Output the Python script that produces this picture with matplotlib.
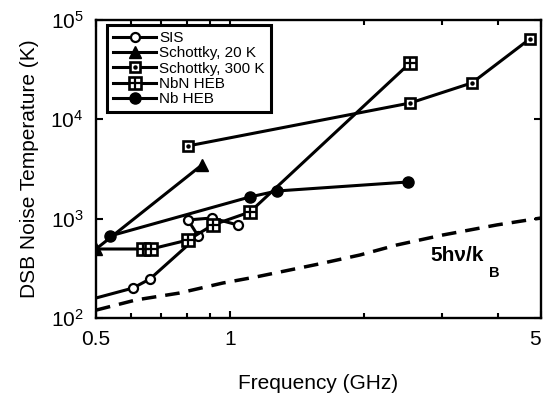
import matplotlib
matplotlib.use("Agg")
import matplotlib.pyplot as plt
from matplotlib.ticker import NullFormatter, NullLocator

plt.rcParams['font.family'] = ['Liberation Sans', 'DejaVu Sans']

# values
sis_f = [0.5, 0.605, 0.661, 0.848, 0.805, 0.911, 1.04]
sis_t = [159, 200, 247, 670, 971, 1016, 865]

sch20_f = [0.5, 0.865]
sch20_t = [495, 3475]

sch300_f = [0.805, 2.54, 3.50, 4.72]
sch300_t = [5400, 14600, 23300, 64600]

nbn_f = [0.5, 0.638, 0.665, 0.805, 0.916, 1.109, 2.54]
nbn_t = [495, 495, 495, 610, 865, 1167, 37000]

nb_f = [0.538, 1.109, 1.276, 2.51]
nb_t = [670, 1655, 1900, 2340]

quantum_f = [0.5, 0.615, 0.768, 0.964, 1.144, 1.586, 1.96, 2.37, 3.01, 3.98, 5.0]
quantum_t = [120, 152, 178, 225, 259, 350, 431, 543, 685, 865, 1016]

x_ticks = [0.5, 1, 5]
x_ticklabels = ['0.5', '1', '5']
x_minor = [0.6, 0.7, 0.8, 0.9, 2, 3, 4]
y_ticks = [1e2, 1e3, 1e4, 1e5]
y_ticklabels = [r'$\mathregular{10^2}$', r'$\mathregular{10^3}$',
                r'$\mathregular{10^4}$', r'$\mathregular{10^5}$']

fig = plt.figure(figsize=(5.43, 3.97), dpi=100)
ax = fig.add_axes([0.1768, 0.199, 0.8195, 0.7506])

lw = 2.2
sis, = ax.plot(sis_f, sis_t, 'k-', lw=lw, marker='o', ms=6.5, mfc='white',
               mec='k', mew=1.6, markevery=list(range(1, len(sis_f))))
s20, = ax.plot(sch20_f, sch20_t, 'k-', lw=lw, marker='^', ms=8.5, mfc='k', mec='k')
s300, = ax.plot(sch300_f, sch300_t, 'k-', lw=lw, marker='s', ms=7.5,
                mfc='white', mec='k', mew=1.9)
s300_dot, = ax.plot(sch300_f, sch300_t, ls='none', marker='o', ms=2.2,
                    mfc='k', mec='k')
nbn, = ax.plot(nbn_f, nbn_t, 'k-', lw=lw, marker='s', ms=8, mfc='white',
               mec='k', mew=1.9, markevery=list(range(1, len(nbn_f))))
nbn_grid, = ax.plot(nbn_f[1:], nbn_t[1:], ls='none', marker='+', ms=8,
                    mec='k', mew=1.6)
nb, = ax.plot(nb_f, nb_t, 'k-', lw=lw, marker='o', ms=8, mfc='k', mec='k')
ax.plot(quantum_f, quantum_t, 'k', lw=2.5, ls=(0, (4.2, 2.6)))

ax.text(2.82, 421, '5hν/k', fontsize=15, fontweight='bold', va='center', ha='left')
ax.text(3.82, 282, 'B', fontsize=10.5, fontweight='bold', va='center', ha='left')

ax.set_xscale('log')
ax.set_yscale('log')
ax.set_xlim(0.5, 5)
ax.set_ylim(1e2, 1e5)
ax.set_xticks(x_ticks)
ax.set_xticklabels(x_ticklabels)
ax.get_xticklabels()[-1].set_horizontalalignment('right')
ax.set_xticks(x_minor, minor=True)
ax.xaxis.set_minor_formatter(NullFormatter())
ax.set_yticks(y_ticks)
ax.set_yticklabels(y_ticklabels)
ax.yaxis.set_minor_locator(NullLocator())

ax.tick_params(which='both', direction='in', top=True, right=True,
               width=1.5, labelsize=15)
ax.tick_params(which='major', length=5)
ax.tick_params(which='minor', length=3.5)
ax.tick_params(axis='x', pad=9)
ax.tick_params(axis='y', pad=9)
for s in ax.spines.values():
    s.set_linewidth(1.7)

ax.set_xlabel('Frequency (GHz)', fontsize=15, labelpad=18)
ax.set_ylabel('DSB Noise Temperature (K)', fontsize=15, labelpad=8)

leg = ax.legend([sis, s20, (s300, s300_dot), (nbn, nbn_grid), nb],
                ['SIS', 'Schottky, 20 K', 'Schottky, 300 K', 'NbN HEB', 'Nb HEB'],
                loc='upper left', bbox_to_anchor=(0.025, 0.983), borderaxespad=0,
                fontsize=11, handlelength=2.8, handletextpad=0.2,
                labelspacing=0.08, borderpad=0.4, fancybox=False,
                framealpha=1, edgecolor='k')
leg.get_frame().set_linewidth(2.2)

fig.savefig('out.png', dpi=100)
